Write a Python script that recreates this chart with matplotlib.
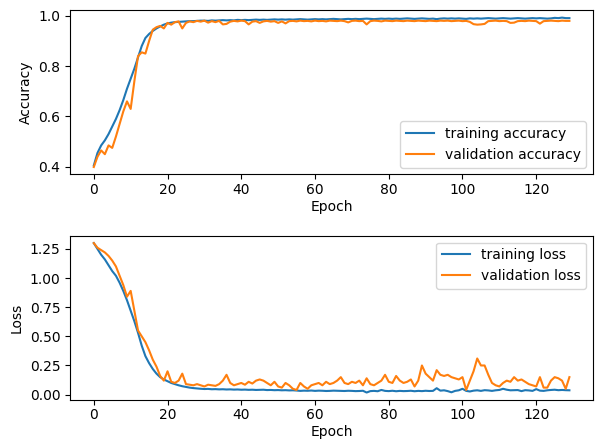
import numpy as np
import matplotlib
matplotlib.use('Agg')
import matplotlib.pyplot as plt

train_acc = [0.405, 0.455, 0.485, 0.505, 0.530, 0.560, 0.590, 0.625, 0.665, 0.710,
             0.750, 0.790, 0.835, 0.880, 0.912, 0.928, 0.940, 0.950, 0.958, 0.965,
             0.970, 0.973, 0.975, 0.976, 0.977, 0.978, 0.979, 0.979, 0.980, 0.981,
             0.981, 0.980, 0.982, 0.981, 0.982, 0.983, 0.982, 0.983, 0.982, 0.984,
             0.983, 0.984, 0.983, 0.984, 0.985, 0.984, 0.985, 0.984, 0.985, 0.986,
             0.985, 0.986, 0.985, 0.986, 0.985, 0.986, 0.987, 0.986, 0.985, 0.986,
             0.987, 0.986, 0.987, 0.986, 0.987, 0.988, 0.987, 0.986, 0.987, 0.988,
             0.987, 0.988, 0.987, 0.988, 0.989, 0.988, 0.987, 0.988, 0.989, 0.988,
             0.989, 0.988, 0.989, 0.988, 0.989, 0.990, 0.989, 0.988, 0.989, 0.990,
             0.989, 0.988, 0.989, 0.987, 0.989, 0.990, 0.989, 0.990, 0.989, 0.990,
             0.989, 0.988, 0.990, 0.989, 0.990, 0.989, 0.990, 0.991, 0.990, 0.989,
             0.990, 0.991, 0.990, 0.989, 0.990, 0.991, 0.990, 0.989, 0.990, 0.991,
             0.990, 0.991, 0.990, 0.989, 0.990, 0.992, 0.991, 0.993, 0.991, 0.991]

val_acc = [0.399, 0.440, 0.465, 0.450, 0.485, 0.475, 0.520, 0.570, 0.620, 0.660,
           0.630, 0.740, 0.840, 0.855, 0.850, 0.900, 0.945, 0.955, 0.960, 0.950,
           0.972, 0.965, 0.975, 0.978, 0.950, 0.972, 0.978, 0.975, 0.980, 0.977,
           0.981, 0.973, 0.979, 0.975, 0.980, 0.966, 0.968, 0.977, 0.980, 0.978,
           0.981, 0.979, 0.966, 0.977, 0.979, 0.972, 0.978, 0.980, 0.977, 0.979,
           0.972, 0.978, 0.970, 0.979, 0.980, 0.978, 0.981, 0.979, 0.980, 0.978,
           0.981, 0.979, 0.980, 0.978, 0.981, 0.980, 0.979, 0.981, 0.979, 0.974,
           0.980, 0.981, 0.979, 0.980, 0.966, 0.979, 0.981, 0.980, 0.978, 0.981,
           0.980, 0.979, 0.981, 0.980, 0.979, 0.981, 0.980, 0.979, 0.981, 0.980,
           0.979, 0.981, 0.980, 0.979, 0.981, 0.980, 0.981, 0.979, 0.980, 0.981,
           0.979, 0.980, 0.976, 0.967, 0.965, 0.966, 0.968, 0.979, 0.980, 0.981,
           0.979, 0.980, 0.979, 0.972, 0.973, 0.979, 0.980, 0.979, 0.981, 0.980,
           0.979, 0.969, 0.979, 0.980, 0.981, 0.980, 0.979, 0.981, 0.980, 0.980]

train_loss = [1.300, 1.250, 1.200, 1.160, 1.110, 1.060, 1.020, 0.960, 0.890, 0.810,
              0.720, 0.630, 0.530, 0.420, 0.330, 0.270, 0.220, 0.180, 0.150, 0.130,
              0.115, 0.100, 0.090, 0.080, 0.072, 0.066, 0.060, 0.056, 0.053, 0.050,
              0.048, 0.049, 0.046, 0.047, 0.045, 0.046, 0.044, 0.045, 0.043, 0.044,
              0.042, 0.043, 0.041, 0.042, 0.040, 0.041, 0.042, 0.039, 0.040, 0.038,
              0.039, 0.037, 0.038, 0.036, 0.037, 0.035, 0.032, 0.034, 0.033, 0.035,
              0.032, 0.034, 0.033, 0.031, 0.032, 0.034, 0.033, 0.032, 0.031, 0.033,
              0.032, 0.030, 0.031, 0.033, 0.018, 0.030, 0.032, 0.029, 0.040, 0.032,
              0.030, 0.033, 0.029, 0.032, 0.030, 0.031, 0.033, 0.029, 0.032, 0.030,
              0.033, 0.031, 0.032, 0.055, 0.034, 0.037, 0.030, 0.020, 0.032, 0.037,
              0.050, 0.032, 0.027, 0.034, 0.037, 0.032, 0.038, 0.036, 0.032, 0.037,
              0.040, 0.050, 0.042, 0.037, 0.038, 0.039, 0.030, 0.038, 0.036, 0.032,
              0.047, 0.034, 0.032, 0.037, 0.040, 0.042, 0.038, 0.040, 0.038, 0.037]

val_loss = [1.300, 1.260, 1.240, 1.220, 1.190, 1.150, 1.100, 1.020, 0.940, 0.840,
            0.890, 0.720, 0.550, 0.500, 0.450, 0.380, 0.300, 0.240, 0.160, 0.120,
            0.200, 0.110, 0.100, 0.120, 0.180, 0.090, 0.085, 0.080, 0.090, 0.080,
            0.070, 0.085, 0.080, 0.075, 0.090, 0.120, 0.170, 0.100, 0.080, 0.090,
            0.100, 0.085, 0.110, 0.095, 0.120, 0.130, 0.120, 0.100, 0.080, 0.110,
            0.070, 0.060, 0.100, 0.080, 0.050, 0.040, 0.100, 0.070, 0.050, 0.080,
            0.090, 0.100, 0.080, 0.110, 0.090, 0.100, 0.120, 0.150, 0.100, 0.090,
            0.110, 0.100, 0.120, 0.080, 0.140, 0.090, 0.080, 0.100, 0.120, 0.170,
            0.110, 0.100, 0.160, 0.120, 0.100, 0.110, 0.130, 0.070, 0.120, 0.250,
            0.180, 0.150, 0.120, 0.210, 0.170, 0.160, 0.170, 0.150, 0.140, 0.130,
            0.150, 0.040, 0.120, 0.200, 0.310, 0.250, 0.250, 0.170, 0.100, 0.080,
            0.070, 0.100, 0.120, 0.110, 0.150, 0.120, 0.130, 0.110, 0.090, 0.080,
            0.070, 0.150, 0.060, 0.060, 0.120, 0.150, 0.140, 0.120, 0.050, 0.150]

loss_ticks = [0.0, 0.25, 0.5, 0.75, 1.0, 1.25]

epochs = np.arange(len(train_acc))

fig, (ax1, ax2) = plt.subplots(2, 1, figsize=(6.01, 4.41), dpi=100)

ax1.plot(epochs, train_acc, label='training accuracy')
ax1.plot(epochs, val_acc, label='validation accuracy')
ax1.set_xlabel('Epoch', labelpad=2)
ax1.set_ylabel('Accuracy')
ax1.legend(loc='lower right')

ax2.plot(epochs, train_loss, label='training loss')
ax2.plot(epochs, val_loss, label='validation loss')
ax2.set_yticks(loss_ticks)
ax2.set_xlabel('Epoch', labelpad=2)
ax2.set_ylabel('Loss')
ax2.legend(loc='upper right')

for ax in (ax1, ax2):
    ax.tick_params(axis='x', pad=2.5)

plt.subplots_adjust(left=0.1165, right=0.987, top=0.977, bottom=0.093, hspace=0.372)
plt.savefig('out.png')
